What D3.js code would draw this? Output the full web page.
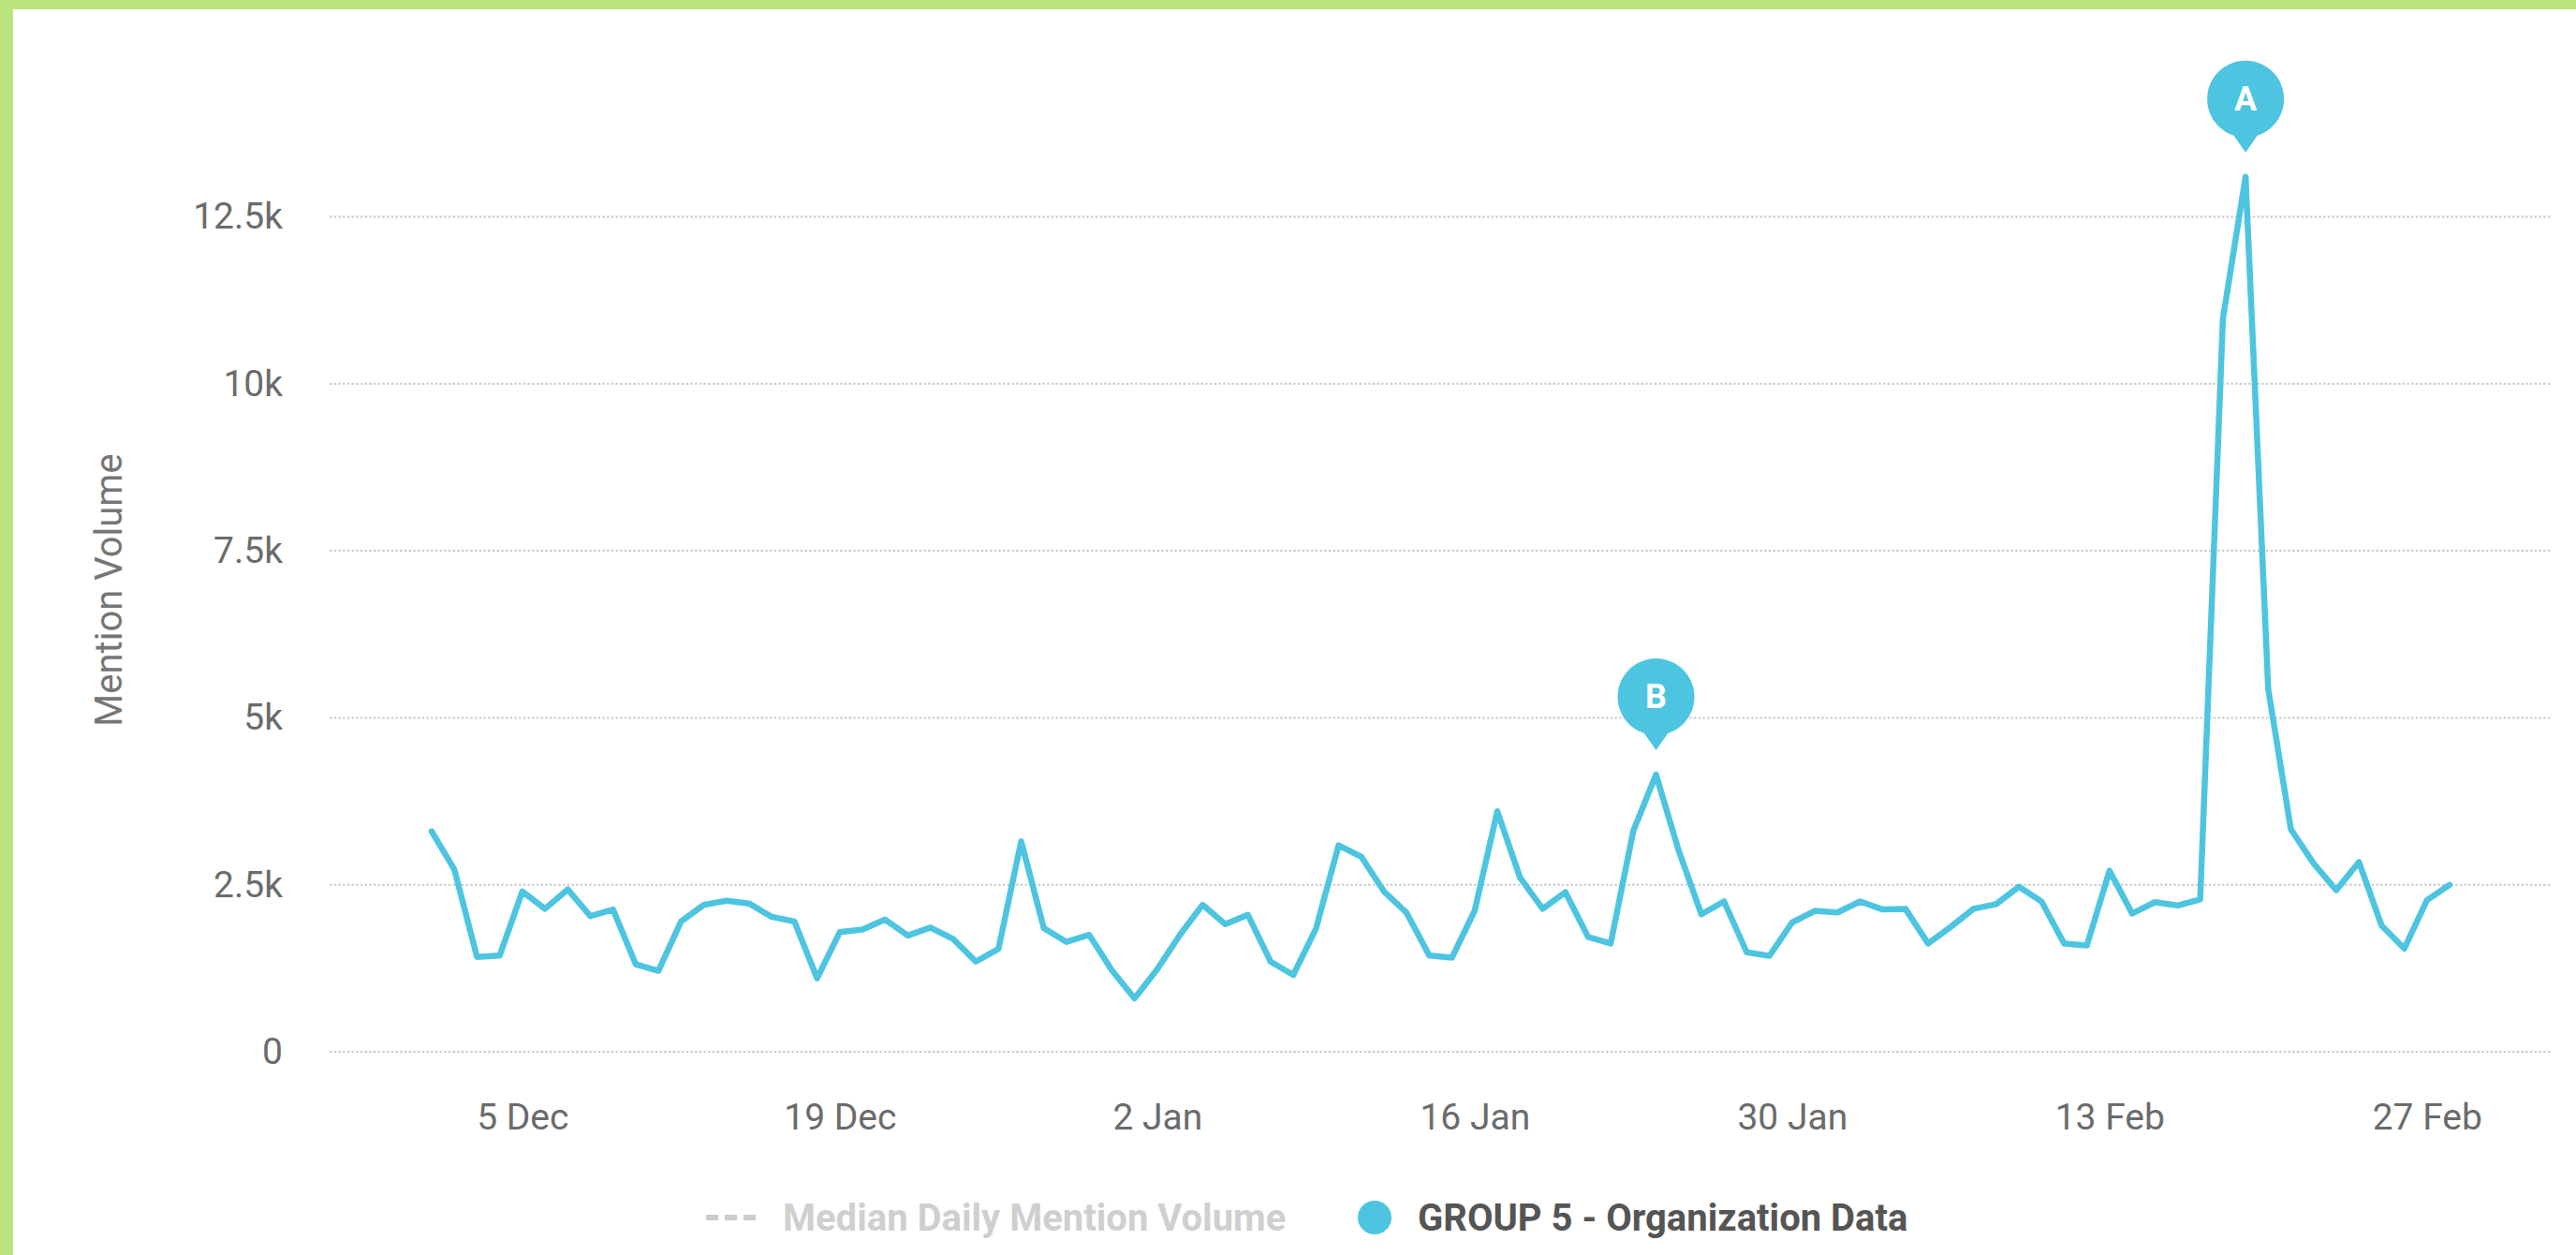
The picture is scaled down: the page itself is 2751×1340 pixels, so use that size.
<!DOCTYPE html>
<html>
<head>
<meta charset="utf-8">
<script src="https://cdn.jsdelivr.net/npm/d3@7"></script>
<style>
  html, body { margin: 0; padding: 0; background: #ffffff; }
  svg { display: block; font-family: Roboto, "Noto Sans", sans-serif; }
</style>
</head>
<body>
<svg id="chart" width="2751" height="1340"></svg>
<script>
// ---------------- DATA ----------------
const startDate = "2017-12-01"; // first day of the daily series (Dec 1 .. Feb 28)
const mentionVolume = [
  3300, 2730, 1420, 1440, 2400, 2140, 2430, 2030, 2130, 1310,
  1210, 1950, 2200, 2260, 2220, 2020, 1950, 1100, 1790, 1830,
  1980, 1740, 1860, 1690, 1350, 1540, 3150, 1850, 1645, 1750,
  1220,  800, 1234, 1750, 2200, 1910, 2050, 1350, 1150, 1840,
  3090, 2920, 2400, 2080, 1440, 1410, 2110, 3600, 2610, 2140,
  2390, 1720, 1620, 3310, 4150, 3010, 2060, 2250, 1490, 1435,
  1935, 2110, 2085, 2250, 2130, 2140, 1620, 1870, 2140, 2210,
  2470, 2250, 1620, 1590, 2710, 2070, 2240, 2190, 2280, 10970,
  13100, 5430, 3330, 2820, 2420, 2840, 1890, 1545, 2270, 2500
];
const xTickDates  = ["2017-12-05", "2017-12-19", "2018-01-02", "2018-01-16", "2018-01-30", "2018-02-13", "2018-02-27"];
const xTickLabels = ["5 Dec", "19 Dec", "2 Jan", "16 Jan", "30 Jan", "13 Feb", "27 Feb"];
const yTickValues = [0, 2500, 5000, 7500, 10000, 12500];
const yTickLabels = ["0", "2.5k", "5k", "7.5k", "10k", "12.5k"];
const annotationLabels = ["A", "B"];
const annotationDates  = ["2018-02-19", "2018-01-24"];
const legendLabels = ["Median Daily Mention Volume", "GROUP 5 - Organization Data"];
const yAxisTitle = "Mention Volume";

// ---------------- SETUP ----------------
const parse = d3.timeParse("%Y-%m-%d");
const start = parse(startDate);
const series = mentionVolume.map((v, i) => ({ date: d3.timeDay.offset(start, i), value: v }));

const W = 2751, H = 1340;
const plotLeft = 352, plotRight = 2725, plotBottom = 1123, plotTop12k5 = 231.5;
const lineColor = "#4ec5e0";
const svg = d3.select("#chart");

// frame (green border on top and left)
svg.append("rect").attr("x", 0).attr("y", 0).attr("width", W).attr("height", H).attr("fill", "#ffffff");
svg.append("rect").attr("x", 0).attr("y", 0).attr("width", W).attr("height", 10).attr("fill", "#bbe67f");
svg.append("rect").attr("x", 0).attr("y", 0).attr("width", 14).attr("height", H).attr("fill", "#bbe67f");

// scales
const padDays = 4.5;
const first = series[0].date, last = series[series.length - 1].date;
const x = d3.scaleTime()
  .domain([new Date(+first - padDays * 864e5), new Date(+last + padDays * 864e5)])
  .range([plotLeft, plotRight]);
const y = d3.scaleLinear().domain([0, 12500]).range([plotBottom, plotTop12k5]);

// gridlines
svg.append("g").selectAll("line").data(yTickValues).join("line")
  .attr("x1", plotLeft).attr("x2", plotRight)
  .attr("y1", d => y(d)).attr("y2", d => y(d))
  .attr("stroke", "#c9c9c9").attr("stroke-width", 2)
  .attr("stroke-dasharray", "2.4,2.3");

// y axis
const yAxis = d3.axisLeft(y).tickValues(yTickValues)
  .tickFormat((d, i) => yTickLabels[i]).tickSize(0).tickPadding(50);
const gy = svg.append("g").attr("transform", `translate(${plotLeft},0)`).call(yAxis);
gy.select(".domain").remove();
gy.selectAll("text").attr("font-size", 39).attr("fill", "#6b6b6b")
  .attr("font-family", "Roboto, sans-serif");

// x axis
const xAxis = d3.axisBottom(x).tickValues(xTickDates.map(parse))
  .tickFormat((d, i) => xTickLabels[i]).tickSize(0).tickPadding(55);
const gx = svg.append("g").attr("transform", `translate(0,${plotBottom})`).call(xAxis);
gx.select(".domain").remove();
gx.selectAll("text").attr("font-size", 39).attr("fill", "#6b6b6b")
  .attr("font-family", "Roboto, sans-serif");

// y axis title
svg.append("text")
  .attr("transform", "translate(116,630) rotate(-90)")
  .attr("text-anchor", "middle").attr("dominant-baseline", "central")
  .attr("font-size", 40).attr("fill", "#767676")
  .text(yAxisTitle);

// line
const line = d3.line().x(d => x(d.date)).y(d => y(d.value));
svg.append("path").datum(series)
  .attr("d", line).attr("fill", "none")
  .attr("stroke", lineColor).attr("stroke-width", 6.5)
  .attr("stroke-linejoin", "round").attr("stroke-linecap", "round");

// annotation pins
const pinPath = "M0,0 L-12.6,-18 A41,41 0 1,1 12.6,-18 Z";
annotationLabels.forEach((lab, i) => {
  const d = parse(annotationDates[i]);
  const pt = series.find(s => +s.date === +d);
  const g = svg.append("g").attr("transform", `translate(${x(pt.date)},${y(pt.value) - 26})`);
  g.append("path").attr("d", pinPath).attr("fill", lineColor);
  g.append("text").attr("x", 0).attr("y", -57)
    .attr("text-anchor", "middle").attr("dominant-baseline", "central")
    .attr("font-size", 36).attr("font-weight", "bold").attr("fill", "#ffffff")
    .text(lab);
});

// legend
const legY = 1300;
svg.append("line").attr("x1", 754).attr("x2", 808).attr("y1", legY).attr("y2", legY)
  .attr("stroke", "#cccccc").attr("stroke-width", 6).attr("stroke-dasharray", "13,7");
svg.append("text").attr("x", 836).attr("y", legY).attr("dominant-baseline", "central")
  .attr("font-size", 40).attr("font-weight", "bold").attr("fill", "#cfcfcf")
  .text(legendLabels[0]);
svg.append("circle").attr("cx", 1468).attr("cy", legY).attr("r", 18).attr("fill", lineColor);
svg.append("text").attr("x", 1514).attr("y", legY).attr("dominant-baseline", "central")
  .attr("font-size", 40).attr("font-weight", "bold").attr("fill", "#555555")
  .text(legendLabels[1]);
</script>
</body>
</html>
